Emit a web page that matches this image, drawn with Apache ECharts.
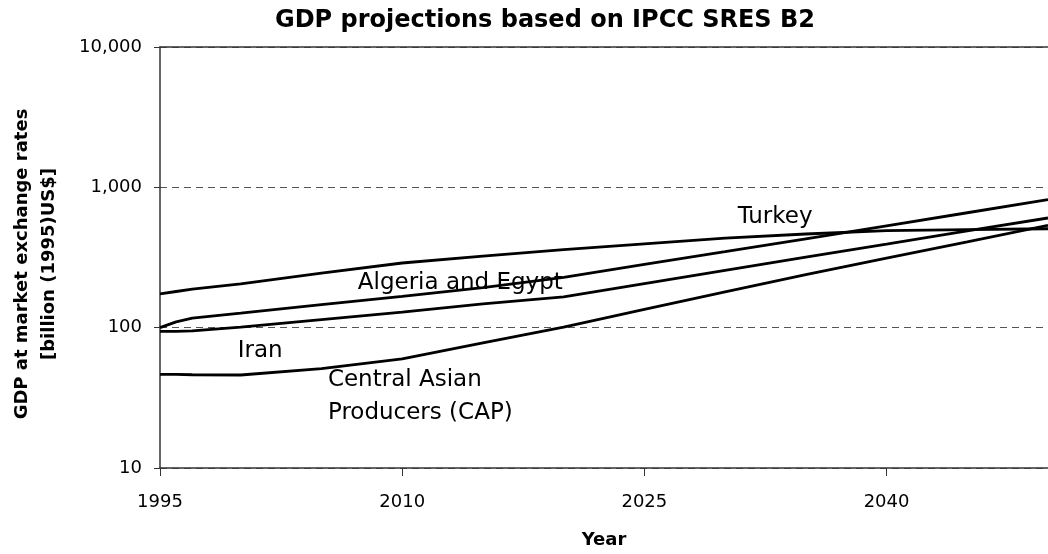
<!DOCTYPE html>
<html>
<head>
<meta charset="utf-8">
<script src="https://cdn.jsdelivr.net/npm/echarts@6/dist/echarts.min.js"></script>
<style>
  html, body { margin: 0; padding: 0; background: #fff; }
  #chart { width: 1048px; height: 554px; }
</style>
</head>
<body>
<div id="chart"></div>
<script>
// years on the x axis
const years = [1995, 1996, 1997, 2000, 2005, 2010, 2015, 2020, 2025, 2030, 2035, 2040, 2045, 2050]

// GDP, billion (1995) US$
const turkey = [174, 181, 188, 205, 245, 289, 323, 360, 396, 434, 465, 492, 500, 507]
const algeriaEgypt = [100, 110, 117, 127, 146, 167, 193, 228, 282, 348, 430, 532, 659, 818]
const iran = [94, 94, 95, 101, 114, 129, 148, 166, 206, 256, 318, 394, 489, 605]
const cap = [46.4, 46.4, 46.2, 46, 51, 60, 78, 101, 135, 180, 239, 313, 408, 536]

const yTicks = [10, 100, 1000, 10000]

const pairs = vals => years.map((y, i) => [y, vals[i]])

const labelFont = { fontFamily: 'DejaVu Sans', fontSize: 23, color: '#000' }

const mkLine = (name, vals, label) => ({
  name: name,
  type: 'line',
  data: pairs(vals),
  showSymbol: false,
  symbol: 'none',
  lineStyle: { color: '#000', width: 2.8 },
  markPoint: {
    symbol: 'circle',
    symbolSize: 0,
    data: [{
      coord: label.coord,
      label: Object.assign({
        show: true,
        position: 'inside',
        align: label.align || 'center',
        verticalAlign: 'middle',
        lineHeight: 33,
        formatter: label.text
      }, labelFont)
    }]
  }
})

const chart = echarts.init(document.getElementById('chart'))

const option = {
  animation: false,
  backgroundColor: '#fff',
  title: {
    text: 'GDP projections based on IPCC SRES B2',
    left: 540,
    textAlign: 'center',
    top: 4,
    textStyle: { fontFamily: 'DejaVu Sans', fontWeight: 'bold', fontSize: 24, color: '#000' }
  },
  grid: { left: 160, right: -3, top: 47, bottom: 83 },
  graphic: [{
    type: 'text',
    x: 36,
    y: 264,
    rotation: Math.PI / 2,
    style: {
      text: 'GDP at market exchange rates\n[billion (1995)US$]',
      font: 'bold 18px "DejaVu Sans"',
      fill: '#000',
      align: 'center',
      verticalAlign: 'middle',
      lineHeight: 27
    }
  }],
  xAxis: [{
    type: 'value',
    min: 1995,
    max: 2050,
    interval: 15,
    name: 'Year',
    nameLocation: 'middle',
    nameGap: 63,
    nameTextStyle: { fontFamily: 'DejaVu Sans', fontWeight: 'bold', fontSize: 18, color: '#000' },
    axisLine: { show: true, lineStyle: { color: '#333', width: 1.5 } },
    axisTick: { show: true, length: 8, lineStyle: { color: '#333' } },
    axisLabel: {
      margin: 25,
      fontFamily: 'DejaVu Sans',
      fontSize: 18,
      color: '#000',
      showMaxLabel: false,
      formatter: v => String(v)
    },
    splitLine: { show: false }
  }, {
    type: 'value',
    position: 'top',
    min: 1995,
    max: 2050,
    axisLine: { show: true, lineStyle: { color: '#333', width: 1.5 } },
    axisTick: { show: false },
    axisLabel: { show: false },
    splitLine: { show: false }
  }],
  yAxis: {
    type: 'log',
    logBase: 10,
    min: yTicks[0],
    max: yTicks[yTicks.length - 1],
    axisLine: { show: true, lineStyle: { color: '#333', width: 1.5 } },
    axisTick: { show: true, length: 6, lineStyle: { color: '#333' } },
    axisLabel: {
      margin: 18,
      fontFamily: 'DejaVu Sans',
      fontSize: 18,
      color: '#000',
      formatter: v => Number(v).toLocaleString('en-US')
    },
    splitLine: { show: true, lineStyle: { color: '#555', type: [7, 5], width: 1 } },
    minorTick: { show: false }
  },
  series: [
    mkLine('Turkey', turkey, { text: 'Turkey', coord: [2033.1, 617] }),
    mkLine('Algeria and Egypt', algeriaEgypt, { text: 'Algeria and Egypt', coord: [2013.6, 208] }),
    mkLine('Iran', iran, { text: 'Iran', coord: [2001.2, 67.8] }),
    mkLine('Central Asian Producers (CAP)', cap, { text: 'Central Asian\nProducers (CAP)', coord: [2005.4, 32.1], align: 'left' })
  ]
}

chart.setOption(option)
</script>
</body>
</html>
